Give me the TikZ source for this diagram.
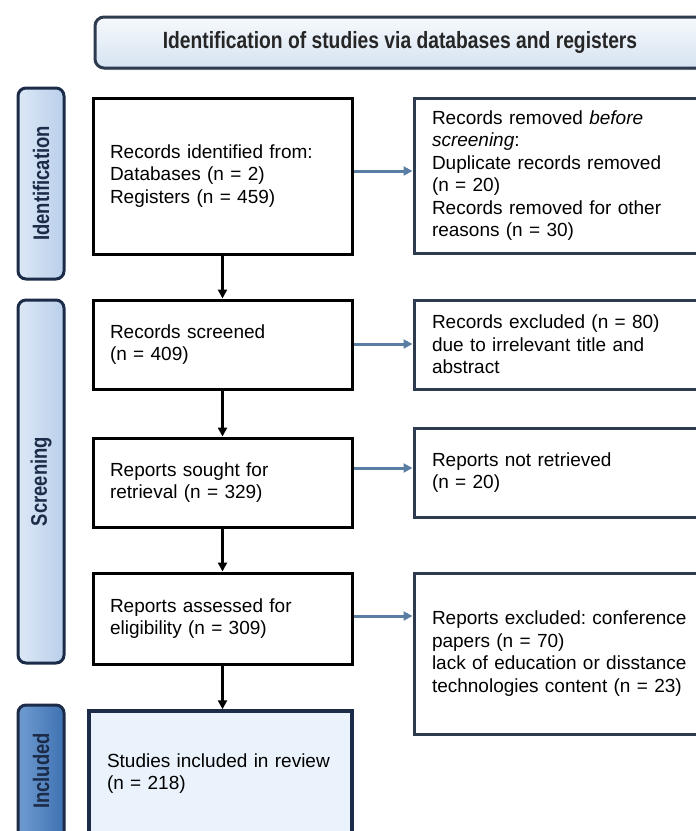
\documentclass[tikz,border=0pt]{standalone}
\usepackage{fontspec}
\setmainfont{Liberation Sans}
\newfontfamily\hdrfont{Liberation Sans}[FakeStretch=0.82]
\usetikzlibrary{arrows.meta,shadows}
\frenchspacing
\definecolor{tabfillA}{HTML}{DCE8F6}
\definecolor{tabfillB}{HTML}{B9CFEA}
\definecolor{incA}{HTML}{6F9BD0}
\definecolor{incB}{HTML}{3F72B3}
\definecolor{navy}{HTML}{1C2B48}
\definecolor{slate}{HTML}{2E3B4E}
\definecolor{arrowblue}{HTML}{5A7DA3}
\definecolor{bannerA}{HTML}{F6F9FD}
\definecolor{bannerB}{HTML}{D6E3F1}
\definecolor{incbox}{HTML}{EAF3FC}
\begin{document}
\begin{tikzpicture}[x=1pt,y=-1pt,
  txt/.style={font=\fontsize{19}{22.5}\selectfont, align=left},
  leftbox/.style={txt, draw=black, line width=3pt, fill=white, minimum width=259pt,
    inner xsep=17pt, text width=225pt},
  rightbox/.style={txt, draw=slate, line width=3pt, fill=white, minimum width=310pt,
    inner xsep=18pt, text width=274pt},
  tab/.style={draw=navy, line width=3pt, rounded corners=8pt, left color=tabfillA, right color=tabfillB,
    minimum width=46pt, inner sep=0pt},
  tabtext/.style={font=\hdrfont\bfseries\fontsize{22.5}{24}\selectfont, text=navy, rotate=90},
  down/.style={draw=black, line width=2.5pt, -{Triangle[length=9pt,width=9pt]}},
  side/.style={draw=arrowblue, line width=3pt, -{Triangle[length=9pt,width=9pt]}},
]
\useasboundingbox (0,0) rectangle (696,831);
\clip (0,0) rectangle (696,831);

% banner
\node[draw=slate, line width=3pt, rounded corners=9pt, top color=bannerA, bottom color=bannerB,
  minimum width=610pt, minimum height=51pt, inner sep=0pt,
  drop shadow={opacity=0.35, shadow xshift=2pt, shadow yshift=-2pt},
  font=\hdrfont\bfseries\fontsize{23.5}{26}\selectfont, text=black!85]
  (banner) at (400,42.5) {Identification of studies via databases and registers};

% phase tabs
\node[tab, minimum height=191pt] (t1) at (41,183.5) {};
\node[tabtext] (t1l) at (t1.center) {Identification};
\node[tab, minimum height=363pt] (t2) at (41,481.5) {};
\node[tabtext] (t2l) at (t2.center) {Screening};
\node[tab, left color=incA, right color=incB, minimum height=140pt] (t3) at (41,775) {};
\node[tabtext] (t3l) at (41,771) {Included};

% left column
\node[leftbox, minimum height=156pt] (b1) at (222.5,176) {Records identified from:\\Databases (n = 2)\\Registers (n = 459)};
\node[leftbox, minimum height=89pt] (b2) at (222.5,344.5) {Records screened\\(n = 409)};
\node[leftbox, minimum height=89pt] (b3) at (222.5,482.5) {Reports sought for\\retrieval (n = 329)};
\node[leftbox, minimum height=91pt] (b4) at (222.5,618.5) {Reports assessed for\\eligibility (n = 309)};
\node[txt, draw=navy, line width=3.5pt, fill=incbox, minimum width=263pt, minimum height=125pt,
  inner xsep=18pt, text width=227pt,
  drop shadow={opacity=0.3, shadow xshift=2pt, shadow yshift=-2pt}]
  (b5) at (220.5,773.5) {Studies included in review\\(n = 218)};

% right column
\node[rightbox, minimum height=155pt] (r1) at (569,175.5) {Records removed \textit{before}\\\textit{screening}:\\Duplicate records removed\\(n = 20)\\Records removed for other\\reasons (n = 30)};
\node[rightbox, minimum height=89pt] (r2) at (569,344.5) {Records excluded (n = 80)\\due to irrelevant title and\\abstract};
\node[rightbox, minimum height=89pt] (r3) at (569,472.5) {Reports not retrieved\\(n = 20)};
\node[rightbox, minimum height=161pt] (r4) at (569,653.5) {Reports excluded: conference\\papers (n = 70)\\lack of education or disstance\\technologies content (n = 23)};

% vertical arrows
\draw[down] (b1.south) -- (b2.north);
\draw[down] (b2.south) -- (b3.north);
\draw[down] (b3.south) -- (b4.north);
\draw[down] (b4.south) -- (b4.south |- b5.north);

% side arrows
\coordinate (y1) at (0,171);
\coordinate (y2) at (0,344);
\coordinate (y3) at (0,468);
\coordinate (y4) at (0,616);
\draw[side] (b1.east |- y1) -- (r1.west |- y1);
\draw[side] (b2.east |- y2) -- (r2.west |- y2);
\draw[side] (b3.east |- y3) -- (r3.west |- y3);
\draw[side] (b4.east |- y4) -- (r4.west |- y4);
\end{tikzpicture}
\end{document}
